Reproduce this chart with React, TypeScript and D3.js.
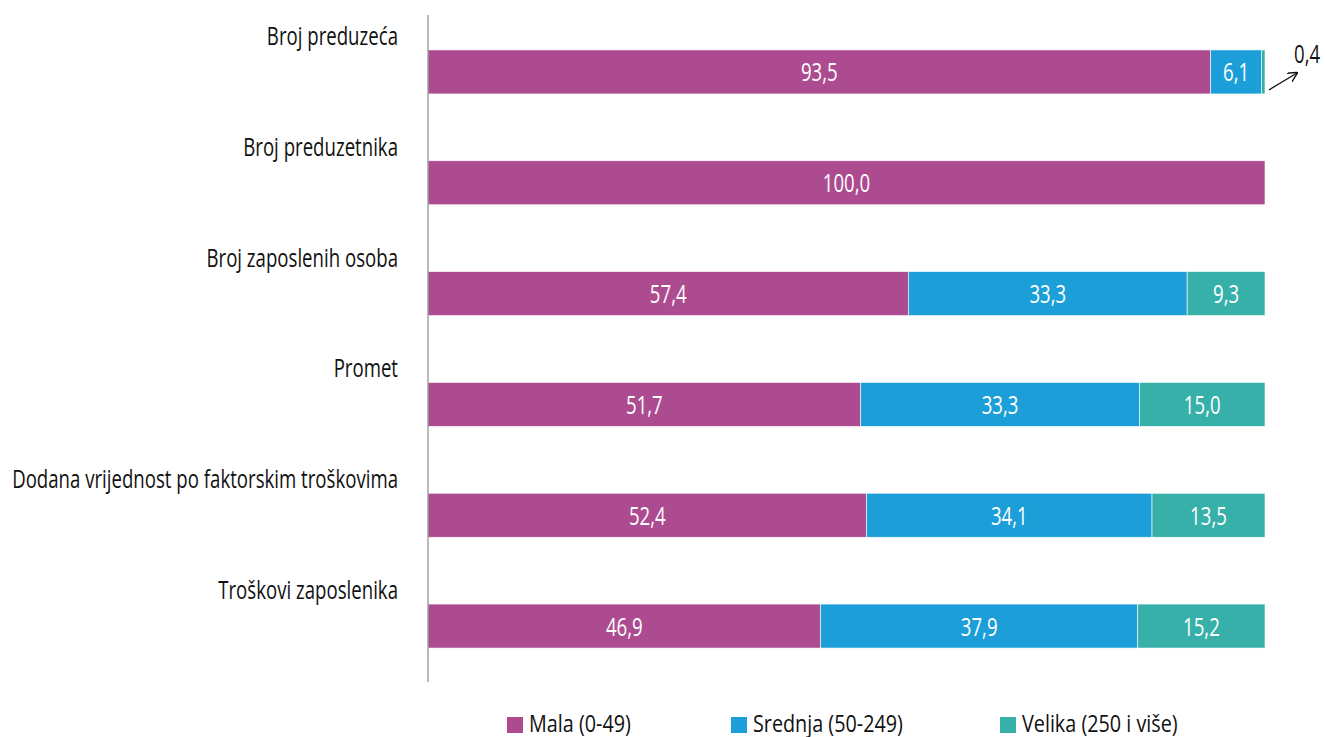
import React, { useEffect, useRef } from "react";
import * as d3 from "d3";

const categories = [
  "Broj preduzeća",
  "Broj preduzetnika",
  "Broj zaposlenih osoba",
  "Promet",
  "Dodana vrijednost po faktorskim troškovima",
  "Troškovi zaposlenika",
];
const seriesNames = ["Mala (0-49)", "Srednja (50-249)", "Velika (250 i više)"];
const mala = [93.5, 100.0, 57.4, 51.7, 52.4, 46.9];
const srednja = [6.1, 0, 33.3, 33.3, 34.1, 37.9];
const velika = [0.4, 0, 9.3, 15.0, 13.5, 15.2];
const colors = ["#ad4b91", "#1c9ed8", "#36b0a9"];

const FONT = "'Open Sans', 'Noto Sans', sans-serif";
const FS = 26;

const fmt = (v: number) => v.toFixed(1).replace(".", ",");

const App: React.FC = () => {
  const svgRef = useRef<SVGSVGElement>(null);

  useEffect(() => {
    if (!svgRef.current) return;
    const W = 1325, H = 737;
    const svg = d3.select(svgRef.current).attr("width", W).attr("height", H);
    svg.selectAll("*").remove();

    // condensed look: measure the longest label and squeeze text horizontally to fit
    const probe = svg.append("text")
      .attr("font-family", FONT).attr("font-size", FS)
      .text(categories[4]);
    const measured = (probe.node() as SVGTextElement).getComputedTextLength() || 386;
    probe.remove();
    const sx = 386 / measured;

    const label = (
      g: d3.Selection<any, any, any, any>,
      px: number, py: number, txt: string,
      anchor: string, fill: string, size = FS, k = 1
    ) => g.append("text")
      .attr("transform", `translate(${px},${py}) scale(${sx * k},1)`)
      .attr("text-anchor", anchor)
      .attr("fill", fill)
      .attr("font-family", FONT)
      .attr("font-size", size)
      .text(txt);

    const x = d3.scaleLinear().domain([0, 100]).range([428, 1265]);
    const y = d3.scaleBand<string>()
      .domain(categories)
      .range([28, 670])
      .paddingInner(0.603)
      .paddingOuter(0.198);

    const rows = categories.map((c, i) => ({ cat: c, "0": mala[i], "1": srednja[i], "2": velika[i] }));
    const stack = d3.stack<any>().keys(["0", "1", "2"])(rows);

    const bars = svg.append("g");
    const vals = svg.append("g");
    stack.forEach((layer, k) => {
      bars.append("g").selectAll("rect")
        .data(layer)
        .join("rect")
        .attr("x", d => x(d[0]))
        .attr("y", d => y((d.data as any).cat)!)
        .attr("width", d => Math.max(0, x(d[1]) - x(d[0])))
        .attr("height", y.bandwidth())
        .attr("fill", colors[k])
        .attr("stroke", "#fff")
        .attr("stroke-width", 0.6);

      layer.filter(d => d[1] - d[0] >= 3).forEach(d => {
        const cy = y((d.data as any).cat)! + y.bandwidth() / 2;
        label(vals, (x(d[0]) + x(d[1])) / 2, cy + 9.5, fmt(d[1] - d[0]), "middle", "#fff");
      });
    });

    // axis line
    svg.append("line")
      .attr("x1", x(0)).attr("x2", x(0))
      .attr("y1", 15).attr("y2", 682)
      .attr("stroke", "#8c8c8c")
      .attr("stroke-width", 1.2);

    // category labels above bars
    const cats = svg.append("g");
    categories.forEach(c => label(cats, 398, y(c)! - 5, c, "end", "#111"));

    // callout for the small value of the first bar
    const first = stack[2][0];
    const ax = x(first[1]) + 4;
    const ay = y(categories[0])! + y.bandwidth() - 4;
    svg.append("defs").append("marker")
      .attr("id", "arr")
      .attr("viewBox", "0 0 10 10")
      .attr("refX", 9).attr("refY", 5)
      .attr("markerWidth", 10).attr("markerHeight", 10)
      .attr("markerUnits", "userSpaceOnUse")
      .attr("orient", "auto")
      .append("path")
      .attr("d", "M0,0 L10,5 L0,10")
      .attr("fill", "none")
      .attr("stroke", "#111")
      .attr("stroke-width", 1.4);
    svg.append("line")
      .attr("x1", ax).attr("y1", ay)
      .attr("x2", ax + 28).attr("y2", ay - 17)
      .attr("stroke", "#111")
      .attr("stroke-width", 1.3)
      .attr("marker-end", "url(#arr)");
    label(svg, ax + 25, ay - 27, fmt(velika[0]), "start", "#111");

    // legend
    const legendX = [507, 731, 1000];
    seriesNames.forEach((s, i) => {
      const g = svg.append("g").attr("transform", `translate(${legendX[i]},717)`);
      g.append("rect").attr("width", 16).attr("height", 16).attr("fill", colors[i]);
      label(g, 22, 15, s, "start", "#111", 24, 1.15);
    });
  }, []);

  return <svg ref={svgRef} style={{ position: "absolute", left: 0, top: 0 }} />;
};

export default App;
